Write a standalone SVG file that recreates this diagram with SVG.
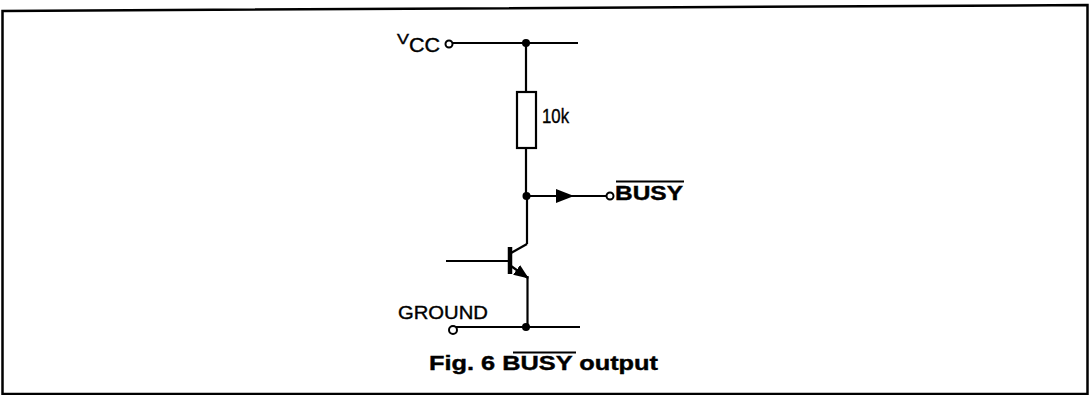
<svg xmlns="http://www.w3.org/2000/svg" width="1090" height="395" viewBox="0 0 1090 395">
<defs>
<style>
.w{stroke:#000;stroke-width:2.2;fill:none;stroke-linecap:butt}
.t{font-family:"Liberation Sans",Arial,sans-serif;fill:#000;stroke:#000;stroke-width:0.4}
.dot{fill:#000}
.term{fill:#fff;stroke:#000;stroke-width:2}
</style>
<marker id="arr" markerWidth="18" markerHeight="14" refX="17" refY="7" orient="auto" markerUnits="userSpaceOnUse">
<path d="M0,0 L18,7 L0,14 Z" fill="#000"/>
</marker>
<marker id="emit" markerWidth="15" markerHeight="12" refX="14" refY="6" orient="auto" markerUnits="userSpaceOnUse">
<path d="M0,0 L15,6 L0,12 Z" fill="#000"/>
</marker>
</defs>
<rect width="1090" height="395" fill="#fff"/>
<g id="frame">
<path d="M2.5,395 L2.5,11 L1087.5,5 L1087.5,394 L2.5,394" fill="none" stroke="#000" stroke-width="2.5"/>
</g>
<g id="connectors">
<line class="w" x1="453" y1="43" x2="578" y2="43"/>
<line class="w" x1="526" y1="43" x2="526" y2="92"/>
<line class="w" x1="526" y1="148" x2="526" y2="196"/>
<line class="w" x1="526" y1="196" x2="573" y2="196" marker-end="url(#arr)"/>
<line class="w" x1="570" y1="196" x2="606" y2="196"/>
<line class="w" x1="527" y1="196" x2="527" y2="244"/>
<line class="w" x1="527" y1="244" x2="511" y2="253"/>
<line class="w" x1="446" y1="261" x2="509" y2="261"/>
<line class="w" x1="511" y1="266" x2="528" y2="278" marker-end="url(#emit)"/>
<line class="w" x1="527.5" y1="276" x2="527.5" y2="327"/>
<line class="w" x1="456" y1="327" x2="580" y2="327"/>
</g>
<g id="vcc">
<circle class="term" cx="449" cy="44" r="3.5"/>
<text class="t" x="397" y="44" font-size="15" textLength="12" lengthAdjust="spacingAndGlyphs">V</text>
<text class="t" x="409" y="52" font-size="20" textLength="31" lengthAdjust="spacingAndGlyphs">CC</text>
</g>
<g id="vcc-junction"><circle class="dot" cx="526" cy="43" r="4"/></g>
<g id="resistor">
<rect x="517" y="92" width="19" height="56" fill="#fff" stroke="#000" stroke-width="2.2"/>
<text class="t" x="542" y="123" font-size="21" textLength="27" lengthAdjust="spacingAndGlyphs">10k</text>
</g>
<g id="out-junction"><circle class="dot" cx="526.5" cy="196" r="4"/></g>
<g id="busy">
<circle class="term" cx="610" cy="196" r="3.5"/>
<text class="t" x="615" y="200" font-size="20" font-weight="bold" textLength="68" lengthAdjust="spacingAndGlyphs">BUSY</text>
<line x1="616" y1="181.5" x2="684" y2="181.5" stroke="#000" stroke-width="1.8"/>
</g>
<g id="transistor">
<line x1="510" y1="247" x2="510" y2="274" stroke="#000" stroke-width="4.5"/>
</g>
<g id="ground">
<text class="t" x="398" y="319" font-size="19" textLength="90" lengthAdjust="spacingAndGlyphs">GROUND</text>
<circle class="term" cx="453" cy="330" r="4"/>
<circle class="dot" cx="526" cy="327" r="4"/>
</g>
<g id="caption">
<text class="t" x="429" y="370" font-size="20" font-weight="bold" textLength="229" lengthAdjust="spacingAndGlyphs">Fig. 6 BUSY output</text>
<line x1="513" y1="352.5" x2="576" y2="352.5" stroke="#000" stroke-width="1.8"/>
</g>
</svg>
